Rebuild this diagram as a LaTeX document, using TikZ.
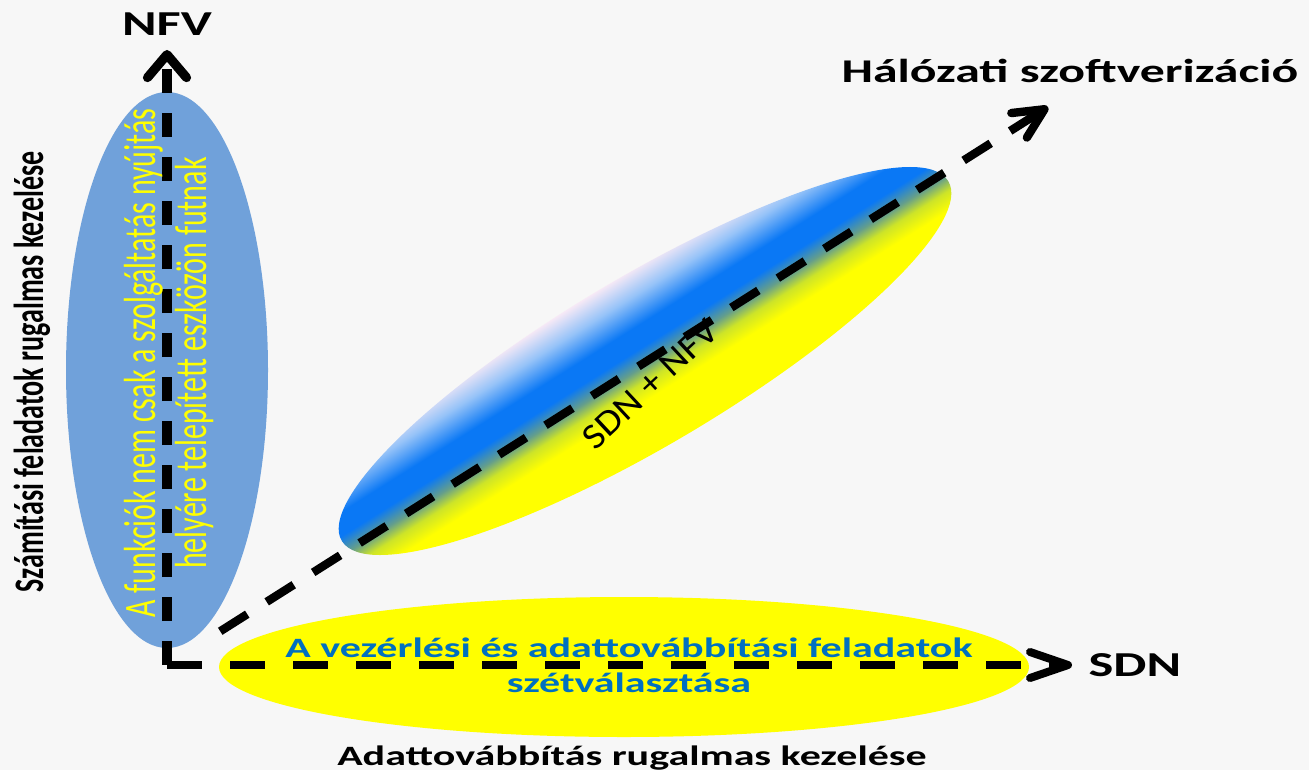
\documentclass[tikz,border=0pt]{standalone}
\usepackage{fontspec}
\setmainfont{Carlito}
\usetikzlibrary{arrows.meta}

\definecolor{bgcol}{RGB}{247,247,247}
\definecolor{nfvblue}{RGB}{112,161,218}
\definecolor{sdnyellow}{RGB}{255,255,0}
\definecolor{textblue}{RGB}{0,112,192}
\definecolor{mixblue}{RGB}{10,120,245}
\definecolor{mixgreen}{RGB}{100,158,140}
\definecolor{mixlime}{RGB}{205,228,40}
\definecolor{mixlight}{RGB}{150,195,248}
\definecolor{mixpale}{RGB}{246,233,246}

\pgfdeclareverticalshading{sdnnfv}{100bp}{color(0bp)=(sdnyellow); color(25bp)=(sdnyellow); color(40bp)=(sdnyellow); color(45bp)=(mixlime); color(49bp)=(mixgreen); color(54bp)=(mixblue); color(60bp)=(mixblue); color(68bp)=(mixlight); color(75bp)=(mixpale); color(100bp)=(mixpale)}

\tikzset{
	axis/.style={line width=4.2pt, black},
	hlabel/.style={xscale=1.5, inner sep=0pt, font=\bfseries\fontsize{17.5}{21}\selectfont},
	vlabel/.style={rotate=90, yscale=1.5, inner sep=0pt},
}

\begin{document}
\begin{tikzpicture}[x=0.5pt, y=-0.5pt]
	\fill[bgcol] (0,0) rectangle (1309,770);
	\useasboundingbox (0,0) rectangle (1309,770);

	\fill[nfvblue] (167,370) ellipse (101 and 278);
	\fill[sdnyellow] (624,667) ellipse (405 and 70);
	\begin{scope}[transform canvas={xscale=1.5, rotate around={43.3:(430,361)}}]
		\shade[shading=sdnnfv] (430,361) ellipse (272 and 73);
	\end{scope}

	\coordinate (o) at (167,665);
	\coordinate (n) at (167,50);
	\coordinate (s) at (1072,665);
	\coordinate (h) at (1048,107);

	\draw[axis, line width=4.6pt, dash pattern=on 12pt off 10pt, -{Straight Barb[length=11.5pt, width=19.5pt, round]}] (o) -- (n);
	\draw[axis, line width=4pt, dash pattern=on 17.5pt off 14pt, -{Straight Barb[length=19pt, width=13pt, round]}] (o) -- (s);
	\draw[axis, dash pattern=on 16pt off 11.5pt, dash phase=16pt, shorten <=20pt, -{Straight Barb[length=15pt, width=14.5pt, round]}] (o) -- (h);

	\node[hlabel, anchor=base] (nfv) at (167,36) {NFV};
	\node[hlabel, anchor=base west] (sdn) at (1088,676) {SDN};
	\node[hlabel, anchor=base, font=\bfseries\fontsize{16.6}{20}\selectfont] (hsz) at (1070,83) {Hálózati szoftverizáció};
	\node[hlabel, anchor=base, font=\bfseries\fontsize{14}{17}\selectfont] (adat) at (632,765) {Adattovábbítás rugalmas kezelése};
	\node[vlabel, anchor=base, font=\bfseries\fontsize{14}{17}\selectfont] (szam) at (43,372) {Számítási feladatok rugalmas kezelése};
	\node[vlabel, align=center, text=sdnyellow, font=\fontsize{15}{17.3}\selectfont] (nfvtxt) at (169,363) {A funkciók nem csak a szolgáltatás nyújtás\\helyére telepített eszközön futnak};
	\node[hlabel, align=center, text=textblue, font=\bfseries\fontsize{14}{17.5}\selectfont] (sdntxt) at (629,665) {A vezérlési és adattovábbítási feladatok\\szétválasztása};
	\node[rotate=43, xscale=1.1, inner sep=0pt, font=\fontsize{18}{21}\selectfont] (mix) at (650,384) {SDN + NFV};
\end{tikzpicture}
\end{document}
